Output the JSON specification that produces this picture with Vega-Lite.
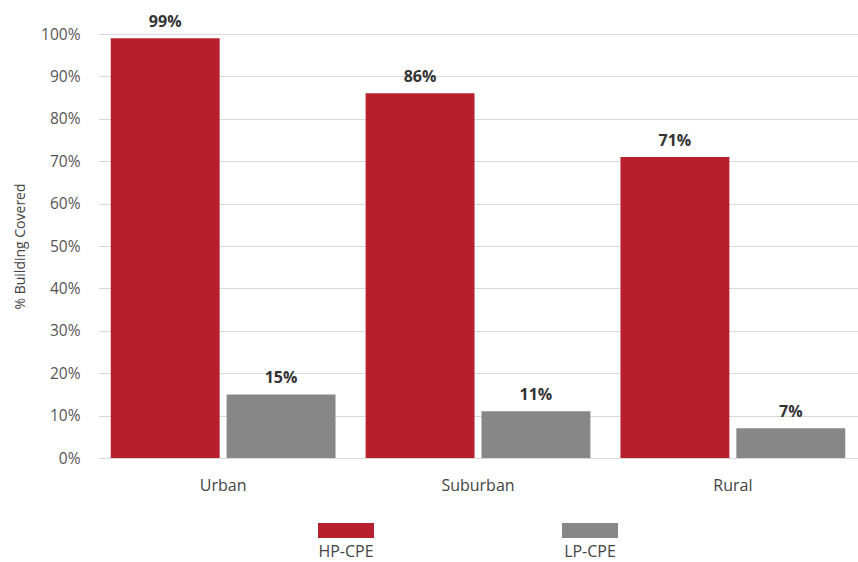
{
  "$schema": "https://vega.github.io/schema/vega-lite/v6.json",
  "width": 760,
  "height": 424,
  "autosize": {"type": "none"},
  "padding": {"left": 98, "top": 34, "right": 0, "bottom": 104},
  "background": "white",
  "config": {"view": {"stroke": null}, "font": "Open Sans"},
  "data": {
    "values": [
      {"area": "Urban", "type": "HP-CPE", "value": 0.99},
      {"area": "Urban", "type": "LP-CPE", "value": 0.15},
      {"area": "Suburban", "type": "HP-CPE", "value": 0.86},
      {"area": "Suburban", "type": "LP-CPE", "value": 0.11},
      {"area": "Rural", "type": "HP-CPE", "value": 0.71},
      {"area": "Rural", "type": "LP-CPE", "value": 0.07}
    ]
  },
  "encoding": {
    "x": {
      "field": "area", "type": "nominal", "sort": ["Urban", "Suburban", "Rural"],
      "scale": {"paddingInner": 0.118, "paddingOuter": 0.05},
      "axis": {"title": null, "labelAngle": 0, "domain": false, "ticks": false, "labelPadding": 19, "labelFontSize": 16, "labelColor": "#444"}
    },
    "xOffset": {
      "field": "type", "type": "nominal", "sort": ["HP-CPE", "LP-CPE"],
      "scale": {"paddingInner": 0.06, "paddingOuter": 0}
    },
    "y": {
      "field": "value", "type": "quantitative",
      "scale": {"domain": [0, 1]},
      "axis": {
        "values": [0, 0.1, 0.2, 0.3, 0.4, 0.5, 0.6, 0.7, 0.8, 0.9, 1],
        "format": ".0%", "domain": false, "ticks": false,
        "gridColor": "#d9d9d9", "gridWidth": 1,
        "labelFontSize": 15.5, "labelColor": "#555", "labelPadding": 18,
        "title": "% Building Covered", "titleFontSize": 14, "titleFontWeight": "normal", "titleColor": "#444", "titlePadding": 13
      }
    }
  },
  "layer": [
    {
      "mark": {"type": "bar"},
      "encoding": {
        "color": {
          "field": "type", "type": "nominal",
          "scale": {"domain": ["HP-CPE", "LP-CPE"], "range": ["#B81F2D", "#878787"]},
          "legend": {
            "orient": "none", "legendX": 218, "legendY": 488,
            "direction": "horizontal", "columns": 2, "title": null,
            "symbolType": "M-0.933,-0.967H0.933V-0.467H-0.933Z",
            "symbolSize": 3600, "symbolStrokeWidth": 0, "symbolOpacity": 1,
            "labelAlign": "center", "labelOffset": -30,
            "labelFontSize": 16, "labelColor": "#444", "columnPadding": 186
          }
        }
      }
    },
    {
      "mark": {"type": "text", "dy": -11, "baseline": "alphabetic", "fontWeight": "bold", "fontSize": 16, "color": "#333"},
      "encoding": {"text": {"field": "value", "type": "quantitative", "format": ".0%"}}
    }
  ]
}
